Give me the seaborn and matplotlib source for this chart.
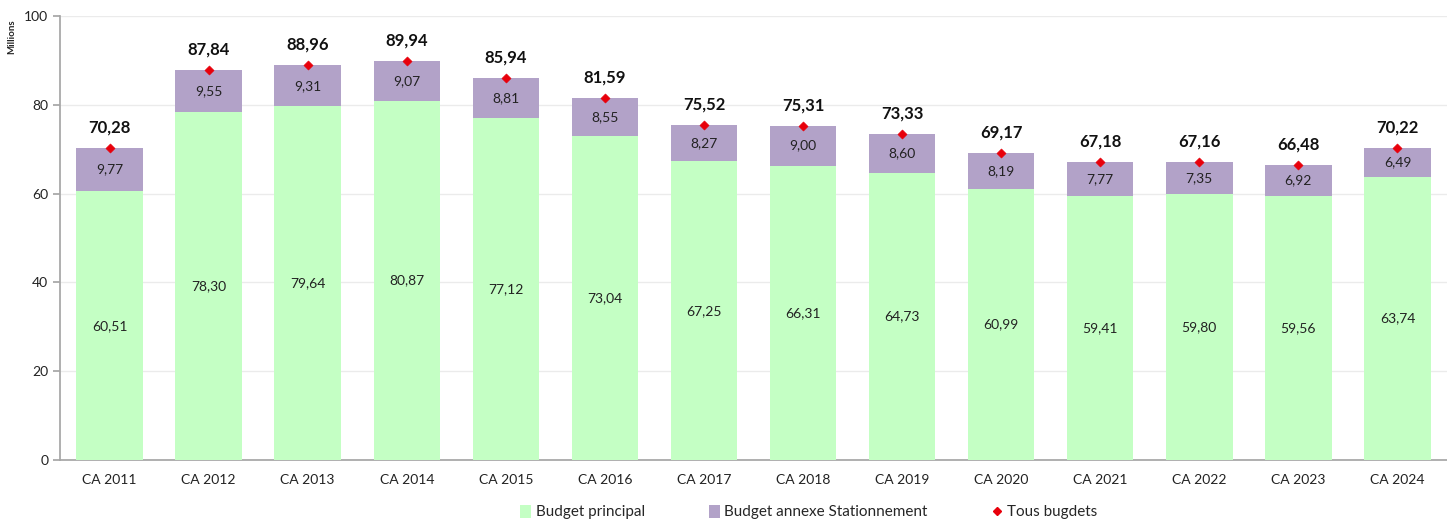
import numpy as np
import pandas as pd
import matplotlib
matplotlib.use("Agg")
import matplotlib.pyplot as plt
import seaborn as sns
from matplotlib.lines import Line2D
from matplotlib.patches import Patch

# values (millions)
years = ["CA 2011", "CA 2012", "CA 2013", "CA 2014", "CA 2015", "CA 2016", "CA 2017",
         "CA 2018", "CA 2019", "CA 2020", "CA 2021", "CA 2022", "CA 2023", "CA 2024"]
budget_principal = [60.51, 78.30, 79.64, 80.87, 77.12, 73.04, 67.25,
                    66.31, 64.73, 60.99, 59.41, 59.80, 59.56, 63.74]
budget_stationnement = [9.77, 9.55, 9.31, 9.07, 8.81, 8.55, 8.27,
                        9.00, 8.60, 8.19, 7.77, 7.35, 6.92, 6.49]
tous_budgets = [70.28, 87.84, 88.96, 89.94, 85.94, 81.59, 75.52,
                75.31, 73.33, 69.17, 67.18, 67.16, 66.48, 70.22]

GREEN = "#C4FFC4"
PURPLE = "#B2A2C8"
RED = "#E8000B"

df = pd.DataFrame({"annee": years, "principal": budget_principal,
                   "stationnement": budget_stationnement, "total": tous_budgets})
df["pos"] = np.arange(len(df))

sns.set_theme(style="white")
plt.rcParams["font.family"] = ["Lato", "DejaVu Sans"]

fig = plt.figure(figsize=(14.47, 5.21), dpi=100)
ax = fig.add_axes([60 / 1447, 61 / 521, 1 - 60 / 1447, 444 / 521])

# stacked look: full total bar in purple, principal drawn on top in green
sns.barplot(data=df, x="annee", y="total", color=PURPLE, width=0.67,
            saturation=1, ax=ax, zorder=2, linewidth=0)
sns.barplot(data=df, x="annee", y="principal", color=GREEN, width=0.67,
            saturation=1, ax=ax, zorder=3, linewidth=0)
sns.scatterplot(data=df, x="pos", y="total", marker="D", color=RED, s=22,
                edgecolor=RED, ax=ax, zorder=5, legend=False)

def fr(v):
    return f"{v:.2f}".replace(".", ",")

for i, row in df.iterrows():
    ax.text(i, row["principal"] / 2, fr(row["principal"]), ha="center", va="center",
            fontsize=10, color="#222222", zorder=6)
    ax.text(i, row["principal"] + row["stationnement"] / 2, fr(row["stationnement"]),
            ha="center", va="center", fontsize=10, color="#222222", zorder=6)
    ax.annotate(fr(row["total"]), (i, row["total"]), xytext=(0, 9),
                textcoords="offset points", ha="center", va="bottom",
                fontsize=12, fontweight="bold", color="#111111", zorder=6)

ax.set_ylim(0, 100)
ax.set_xlim(-0.5, 13.41)
ax.set_yticks(np.arange(0, 101, 20))
ax.set_xlabel("")
ax.set_ylabel("")
ax.yaxis.grid(True, color="#EBEBEB", linewidth=1, zorder=0)
ax.set_axisbelow(True)

for s in ["top", "right"]:
    ax.spines[s].set_visible(False)
ax.spines["left"].set_color("#A6A6A6")
ax.spines["bottom"].set_color("#A6A6A6")

# category labels centred, tick marks between categories
ax.set_xticks(np.arange(len(years)))
ax.set_xticklabels(years, fontsize=10, color="#222222")
ax.tick_params(axis="x", length=0, pad=10)
ax.set_xticks(np.arange(-0.5, len(years), 1), minor=True)
ax.tick_params(axis="x", which="minor", length=5, color="#A6A6A6", direction="out")
ax.tick_params(axis="y", length=5, color="#A6A6A6", direction="out",
               labelsize=10, labelcolor="#222222", left=True)

fig.text(12 / 1447, 1 - 37 / 521, "Millions", rotation=90, fontsize=7,
         fontweight="bold", ha="center", va="center", color="#222222")

handles = [
    Patch(facecolor=GREEN, edgecolor="none"),
    Patch(facecolor=PURPLE, edgecolor="none"),
    Line2D([], [], marker="D", color="none", markerfacecolor=RED,
           markeredgecolor=RED, markersize=4),
]
labels = ["Budget principal", "Budget annexe Stationnement", "Tous bugdets"]
fig.legend(handles, labels, loc="center", bbox_to_anchor=(0.559, 0.017), ncol=3,
           frameon=False, fontsize=11, handlelength=0.7, handleheight=0.9,
           handletextpad=0.3, columnspacing=4.2)

fig.savefig("out.png", dpi=100)
